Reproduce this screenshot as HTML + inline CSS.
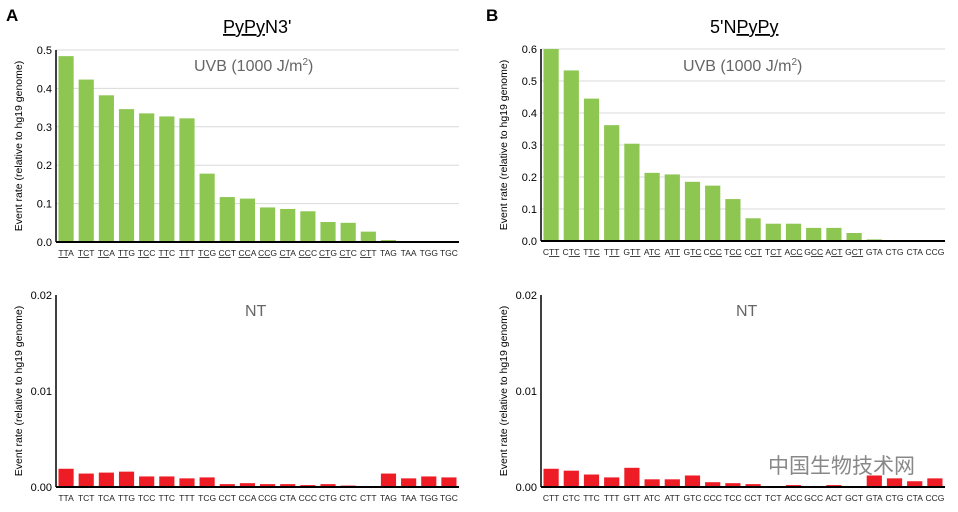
<!DOCTYPE html>
<html><head><meta charset="utf-8"><style>
body{margin:0;background:#fff;width:958px;height:507px;overflow:hidden;font-family:"Liberation Sans",Arial,sans-serif}
svg text{font-family:"Liberation Sans",Arial,"Noto Sans CJK SC",sans-serif}
</style></head><body>
<svg id="fig" width="958" height="507" xmlns="http://www.w3.org/2000/svg">
<text x="6" y="21" font-size="17" font-weight="bold">A</text>
<text x="486" y="21" font-size="17" font-weight="bold">B</text>
<text x="223" y="33" font-size="18"><tspan text-decoration="underline">PyPy</tspan>N3'</text>
<text x="710" y="33" font-size="18">5'N<tspan text-decoration="underline">PyPy</tspan></text>
<text x="194" y="71" font-size="16" fill="#666">UVB (1000 J/m<tspan dy="-6" font-size="10">2</tspan><tspan dy="6">)</tspan></text>
<text x="683" y="71" font-size="16" fill="#666">UVB (1000 J/m<tspan dy="-6" font-size="10">2</tspan><tspan dy="6">)</tspan></text>
<text x="245" y="316" font-size="16" fill="#666">NT</text>
<text x="736" y="316" font-size="16" fill="#666">NT</text>
<text x="768" y="473" font-size="21" fill="#888">中国生物技术网</text>
</svg>
<script>
const catsA = ["TTA","TCT","TCA","TTG","TCC","TTC","TTT","TCG","CCT","CCA","CCG","CTA","CCC","CTG","CTC","CTT","TAG","TAA","TGG","TGC"];
const catsB = ["CTT","CTC","TTC","TTT","GTT","ATC","ATT","GTC","CCC","TCC","CCT","TCT","ACC","GCC","ACT","GCT","GTA","CTG","CTA","CCG"];
const uvbA = [0.484,0.423,0.382,0.346,0.335,0.327,0.322,0.178,0.117,0.113,0.090,0.086,0.080,0.052,0.050,0.027,0.005,0.002,0.002,0.002];
const uvbB = [0.600,0.533,0.445,0.362,0.304,0.213,0.208,0.185,0.173,0.131,0.071,0.054,0.054,0.041,0.041,0.025,0.005,0.003,0.003,0.003];
const ntA = [0.0019,0.0014,0.0015,0.0016,0.0011,0.0011,0.0009,0.0010,0.0003,0.0004,0.0003,0.0003,0.0002,0.0003,0.00015,0.00005,0.0014,0.0009,0.0011,0.0010];
const ntB = [0.0019,0.0017,0.0013,0.0010,0.0020,0.0008,0.0008,0.0012,0.0005,0.0004,0.0003,0.0001,0.0002,0.0001,0.0002,0.0001,0.0012,0.0009,0.0006,0.0009];
const ticksA = ["0.0","0.1","0.2","0.3","0.4","0.5"];
const ticksB = ["0.0","0.1","0.2","0.3","0.4","0.5","0.6"];
const ticksNT = ["0.00","0.01","0.02"];

const svg = document.getElementById('fig');
const NS = "http://www.w3.org/2000/svg";
function mk(tag, attrs){const e=document.createElementNS(NS,tag);for(const k in attrs)e.setAttribute(k,attrs[k]);svg.appendChild(e);return e;}

function chart(id, x0, x1, yTop, yBot, ticks, vals, cats, color, grid, ulMode, fs){
  const maxV = parseFloat(ticks[ticks.length-1]);
  const ys = v => yBot - (v/maxV)*(yBot-yTop);
  const bw = (x1-x0)/cats.length;
  ticks.forEach((t,i)=>{
    const y = ys(parseFloat(t));
    if(grid && i>0){const g=mk('line',{x1:x0,x2:x1,y1:y,y2:y,stroke:'#d9d9d9','stroke-width':1});
      
      }
    const tl=mk('text',{x:x0-4,y:y+4,'font-size':11,'text-anchor':'end'});
    tl.textContent=t;
    
    
  });
  vals.forEach((v,i)=>{
    const y=ys(v);
    const r=mk('rect',{x:x0+i*bw+2.5,y:y,width:bw-5,height:yBot-y,fill:color});
    
    
  });
  cats.forEach((c,i)=>{
    const cx=x0+i*bw+bw/2;
    const t=mk('text',{x:cx,y:yBot+14,'font-size':fs,'text-anchor':'middle',fill:'#222'});
    if(ulMode && i<16){
      const a=document.createElementNS(NS,'tspan');const b=document.createElementNS(NS,'tspan');
      if(ulMode==='first'){a.textContent=c.slice(0,2);a.setAttribute('text-decoration','underline');b.textContent=c.slice(2);t.appendChild(a);t.appendChild(b);}
      else{a.textContent=c.slice(0,1);b.textContent=c.slice(1);b.setAttribute('text-decoration','underline');t.appendChild(a);t.appendChild(b);}
    } else t.textContent=c;
    
    
  });
  const ax=mk('line',{x1:x0,x2:x0,y1:yTop,y2:yBot,stroke:'#000','stroke-width':1.5});
  
  
  const bx=mk('line',{x1:x0,x2:x1,y1:yBot,y2:yBot,stroke:'#000','stroke-width':2});
  
  
  const yt=mk('text',{x:0,y:0,'font-size':10.5,'text-anchor':'middle',transform:`translate(${x0-34},${(yTop+yBot)/2}) rotate(-90)`});
  yt.textContent='Event rate (relative to hg19 genome)';
  
  
}
chart('uvb-a',56,459,50,242,ticksA,uvbA,catsA,'#8dc651',true,'first',8.5);
chart('uvb-b',541,945,49,241,ticksB,uvbB,catsB,'#8dc651',true,'last',8.5);
chart('nt-a',56,459,295,487,ticksNT,ntA,catsA,'#ee1c25',false,null,8.5);
chart('nt-b',541,945,295,487,ticksNT,ntB,catsB,'#ee1c25',false,null,8.5);
</script>
</body></html>
